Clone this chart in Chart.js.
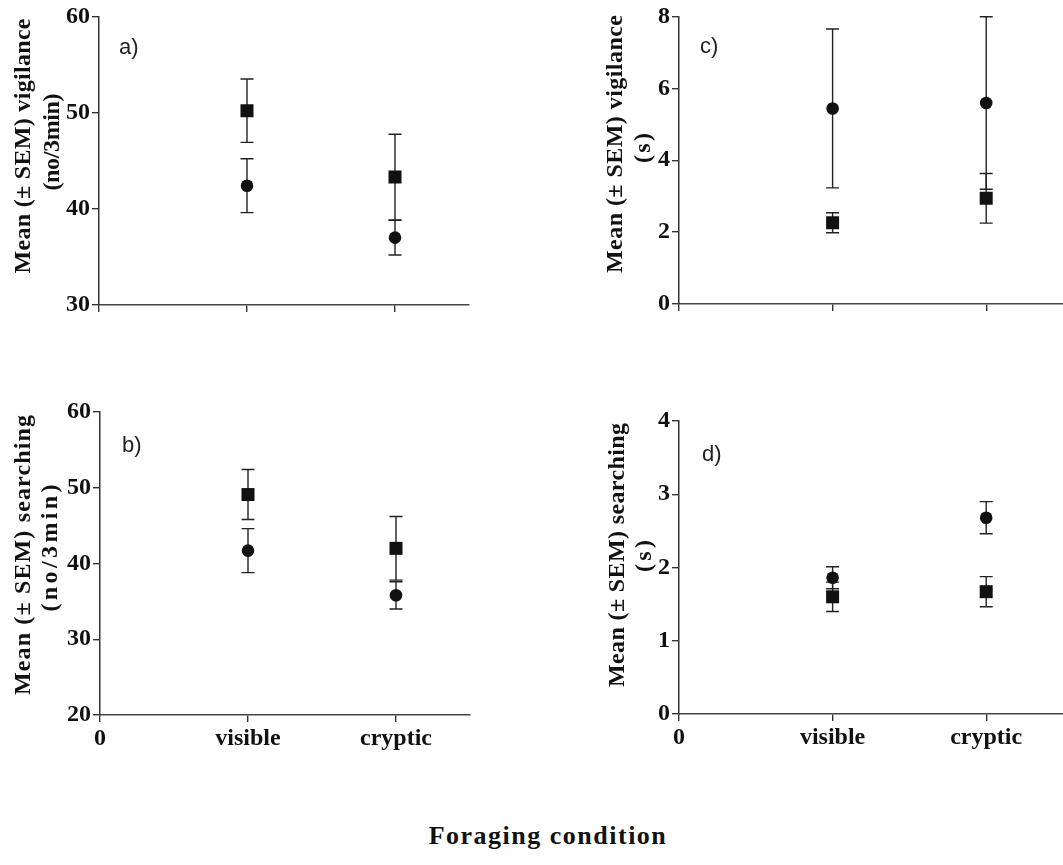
<!DOCTYPE html>
<html>
<head>
<meta charset="utf-8">
<script src="https://cdn.jsdelivr.net/npm/chart.js@4.4.1/dist/chart.umd.min.js"></script>
<style>
  body { margin: 0; background: #fff; width: 1063px; height: 865px; position: relative; overflow: hidden; }
  canvas { position: absolute; }
  #xtitle {
    position: absolute; left: 548px; top: 823px; transform: translateX(-50%);
    font: bold 26px "Liberation Serif", "Times New Roman", serif; letter-spacing: 1.5px;
    line-height: 1; white-space: nowrap; color: #111;
  }
</style>
</head>
<body>
<canvas id="panelA" width="540" height="380" style="left:0;top:0"></canvas>
<canvas id="panelB" width="540" height="420" style="left:0;top:380px"></canvas>
<canvas id="panelC" width="523" height="380" style="left:540px;top:0"></canvas>
<canvas id="panelD" width="523" height="420" style="left:540px;top:380px"></canvas>
<div id="xtitle">Foraging condition</div>

<script>
// x positions: 0 = origin, 1 = visible, 2 = cryptic
const categories = ['0', 'visible', 'cryptic'];
const xValues = [1, 2];

// a) vigilance rate (no/3min)
const vigRateCircle = [42.4, 37.0];
const vigRateCircleSem = [2.8, 1.8];
const vigRateSquare = [50.2, 43.3];
const vigRateSquareSem = [3.3, 4.45];

// b) searching rate (no/3min)
const searchRateCircle = [41.7, 35.8];
const searchRateCircleSem = [2.9, 1.8];
const searchRateSquare = [49.1, 42.0];
const searchRateSquareSem = [3.3, 4.2];

// c) vigilance duration (s)
const vigDurCircle = [5.44, 5.59];
const vigDurCircleSem = [2.21, 2.4];
const vigDurSquare = [2.26, 2.94];
const vigDurSquareSem = [0.28, 0.69];

// d) searching duration (s)
const searchDurCircle = [1.86, 2.68];
const searchDurCircleSem = [0.15, 0.22];
const searchDurSquare = [1.60, 1.67];
const searchDurSquareSem = [0.20, 0.205];

// y ranges: [min, max, step]
const yRangeA = [30, 60, 10];
const yRangeB = [20, 60, 10];
const yRangeC = [0, 8, 2];
const yRangeD = [0, 4, 1];

const INK = '#111';
const AXIS = '#333';
const serif = '"Liberation Serif", "Times New Roman", serif';

// vertical SEM bars with caps, drawn under the markers
const errorBars = {
  id: 'errorBars',
  beforeDatasetsDraw(chart) {
    const { ctx, scales: { x, y } } = chart;
    ctx.save();
    ctx.strokeStyle = '#222';
    ctx.lineWidth = 1.4;
    chart.data.datasets.forEach(ds => {
      ds.data.forEach((p, i) => {
        const sem = ds.sem[i];
        const px = x.getPixelForValue(p.x);
        const top = y.getPixelForValue(p.y + sem);
        const bot = y.getPixelForValue(p.y - sem);
        ctx.beginPath();
        ctx.moveTo(px, top); ctx.lineTo(px, bot);
        ctx.moveTo(px - 6.5, top); ctx.lineTo(px + 6.5, top);
        ctx.moveTo(px - 6.5, bot); ctx.lineTo(px + 6.5, bot);
        ctx.stroke();
      });
    });
    ctx.restore();
  }
};

// rotated two-line y title and the panel letter
const panelText = {
  id: 'panelText',
  afterDraw(chart, args, opts) {
    const ctx = chart.ctx;
    const size = 24;
    ctx.save();
    ctx.fillStyle = INK;
    ctx.font = 'bold ' + size + 'px ' + serif;
    ctx.textAlign = 'left';
    ctx.textBaseline = 'alphabetic';
    opts.lines.forEach(l => {
      ctx.letterSpacing = '0px';
      const natural = ctx.measureText(l.text).width;
      const n = [...l.text].length;
      ctx.letterSpacing = ((l.len - natural) / (n - 1)) + 'px';
      ctx.save();
      ctx.translate(l.cx + 0.22 * size, l.cy);
      ctx.rotate(-Math.PI / 2);
      ctx.fillText(l.text, -l.len / 2, 0);
      ctx.restore();
    });
    ctx.letterSpacing = '0px';
    ctx.font = '22px "Liberation Sans", Arial, sans-serif';
    ctx.fillStyle = '#222';
    ctx.fillText(opts.tag, opts.tagX, opts.tagY);
    ctx.restore();
  }
};

function points(values) {
  return values.map((v, i) => ({ x: xValues[i], y: v }));
}

function makePanel(id, p) {
  const canvas = document.getElementById(id);
  const W = canvas.width, H = canvas.height;
  return new Chart(canvas, {
    type: 'scatter',
    data: {
      datasets: [
        {
          data: points(p.circle), sem: p.circleSem,
          pointStyle: 'circle', pointRadius: 6.3,
          backgroundColor: INK, borderColor: INK, borderWidth: 0
        },
        {
          data: points(p.square), sem: p.squareSem,
          pointStyle: 'rect', pointRadius: 9.2,
          backgroundColor: INK, borderColor: INK, borderWidth: 0
        }
      ]
    },
    options: {
      responsive: false,
      animation: false,
      events: [],
      layout: {
        autoPadding: false,
        padding: { left: 0, top: p.box.top, right: W - p.box.right, bottom: 0 }
      },
      plugins: {
        legend: { display: false },
        tooltip: { enabled: false },
        panelText: p.text
      },
      scales: {
        x: {
          type: 'linear', min: 0, max: 2.5,
          afterBuildTicks: s => { s.ticks = [0, 1, 2].map(v => ({ value: v })); },
          afterFit: s => { s.height = H - p.box.bottom; },
          grid: { drawOnChartArea: false, drawTicks: true, tickLength: 7, color: AXIS, lineWidth: 1.4 },
          border: { display: true, color: '#444', width: 1.5 },
          ticks: {
            padding: 2, color: INK, maxRotation: 0, autoSkip: false,
            font: { family: serif, size: 24, weight: 'bold' },
            callback: v => p.showX ? categories[v] : ''
          }
        },
        y: {
          min: p.yRange[0], max: p.yRange[1],
          afterFit: s => { s.width = p.box.left; },
          grid: { drawOnChartArea: false, drawTicks: true, tickLength: 7, color: AXIS, lineWidth: 1.4 },
          border: { display: true, color: AXIS, width: 1.5 },
          ticks: {
            stepSize: p.yRange[2], padding: 2, color: INK,
            font: { family: serif, size: 24, weight: 'bold' }
          }
        }
      }
    },
    plugins: [errorBars, panelText]
  });
}

makePanel('panelA', {
  circle: vigRateCircle, circleSem: vigRateCircleSem,
  square: vigRateSquare, squareSem: vigRateSquareSem,
  yRange: yRangeA, showX: false,
  box: { left: 99, top: 16, right: 469, bottom: 305 },
  text: {
    lines: [
      { text: 'Mean (± SEM) vigilance', cx: 25, cy: 146, len: 255 },
      { text: '(no/3min)', cx: 54, cy: 142, len: 97 }
    ],
    tag: 'a)', tagX: 119, tagY: 54
  }
});

makePanel('panelB', {
  circle: searchRateCircle, circleSem: searchRateCircleSem,
  square: searchRateSquare, squareSem: searchRateSquareSem,
  yRange: yRangeB, showX: true,
  box: { left: 100, top: 32, right: 470, bottom: 335 },
  text: {
    lines: [
      { text: 'Mean (± SEM) searching', cx: 25, cy: 175, len: 280 },
      { text: '(no/3min)', cx: 52, cy: 168, len: 127 }
    ],
    tag: 'b)', tagX: 122, tagY: 72
  }
});

makePanel('panelC', {
  circle: vigDurCircle, circleSem: vigDurCircleSem,
  square: vigDurSquare, squareSem: vigDurSquareSem,
  yRange: yRangeC, showX: false,
  box: { left: 139, top: 15, right: 523, bottom: 304 },
  text: {
    lines: [
      { text: 'Mean (± SEM) vigilance', cx: 77, cy: 144, len: 258 },
      { text: '(s)', cx: 105, cy: 148, len: 30 }
    ],
    tag: 'c)', tagX: 160, tagY: 53
  }
});

makePanel('panelD', {
  circle: searchDurCircle, circleSem: searchDurCircleSem,
  square: searchDurSquare, squareSem: searchDurSquareSem,
  yRange: yRangeD, showX: true,
  box: { left: 139, top: 41, right: 523, bottom: 334 },
  text: {
    lines: [
      { text: 'Mean (± SEM) searching', cx: 79, cy: 175, len: 264 },
      { text: '(s)', cx: 106, cy: 176, len: 32 }
    ],
    tag: 'd)', tagX: 162, tagY: 81
  }
});
</script>
</body>
</html>
